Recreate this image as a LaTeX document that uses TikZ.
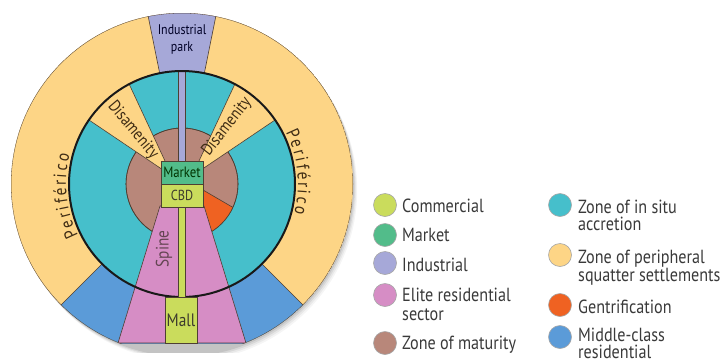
\documentclass[tikz,border=0pt]{standalone}
\usepackage{fontspec}
\setmainfont{PT Sans}[FakeStretch=0.85]
\usetikzlibrary{calc,decorations.text}

\definecolor{commercial}{HTML}{CADC5C}
\definecolor{market}{HTML}{52BC8A}
\definecolor{industrial}{HTML}{A6A8D8}
\definecolor{elite}{HTML}{D68DC5}
\definecolor{maturity}{HTML}{B8877A}
\definecolor{insitu}{HTML}{46BFCB}
\definecolor{squatter}{HTML}{FDD586}
\definecolor{gentry}{HTML}{EF6222}
\definecolor{middle}{HTML}{5B9BD8}
\definecolor{edge}{HTML}{4E3F33}
\definecolor{legendtext}{HTML}{3A3A3A}
\definecolor{labelbrown}{HTML}{3F2C14}

\tikzset{
  zoneline/.style={draw=edge,line width=0.6pt},
  box/.style={zoneline,inner sep=0pt,font=\fontsize{14.5}{16}\selectfont},
  lbl/.style={inner sep=0pt,font=\fontsize{14.5}{16}\selectfont},
  dot/.style={circle,minimum size=23pt,inner sep=0pt,draw=black!35,line width=0.6pt},
  legend/.style={anchor=base west,inner sep=0pt,text=legendtext,font=\fontsize{19}{20}\selectfont},
  ringtext/.style={decorate,decoration={text along path,text align=center,
      text={|\color{labelbrown}\fontsize{18}{20}\selectfont\spaceskip=2.3pt\relax|P e r i f é r i c o}}},
}

\begin{document}
\begin{tikzpicture}[x=1pt,y=-1pt]
\useasboundingbox (0,0) rectangle (727,362);
\fill[white] (0,0) rectangle (727,362);
\coordinate (C) at (182,184);

% soft shadow below the disc
\begin{scope}
  \clip (0,0) rectangle (400,352);
  \foreach \o/\a in {6/0.04,4.5/0.05,3/0.07,1.5/0.09}
    \fill[black,opacity=\a] ($(C)+(0.7*\o,\o)$) circle[radius=171];
\end{scope}

% outer ring: peripheral squatter settlements, industrial park, middle class
\begin{scope}
  \clip (C) circle[radius=171];
  \clip (0,0) rectangle (400,343);
  \fill[squatter] (0,0) rectangle (400,362);
  \fill[industrial] (C) -- +(-78.6:260) -- +(-101.4:260) -- cycle;
  \fill[middle] (C) -- +(-225:260) -- +(-270:260) -- cycle;
  \fill[middle] (C) -- +(-270:260) -- +(-315:260) -- cycle;
  \foreach \ang in {-78.6,-101.4,-225,-315}
    \draw[zoneline] (C) -- +(\ang:260);
  \draw[zoneline] (C) circle[radius=171];
\end{scope}

% inner disc: in situ accretion, maturity, gentrification, disamenity
\begin{scope}
  \clip (C) circle[radius=113];
  \fill[insitu] (C) circle[radius=113];
  \filldraw[fill=maturity,zoneline] (C) circle[radius=56];
  \begin{scope}
    \clip (C) circle[radius=56];
    \fill[gentry] (203,190) -- (261.4,224) -- (240,290) -- (190,290) -- (190,190) -- cycle;
    \draw[zoneline] (203,190) -- (261.4,224);
  \end{scope}
  \draw[zoneline] (C) circle[radius=56];
  \filldraw[fill=squatter,zoneline] (172,176) -- +(-115:200) -- +(-146:200) -- cycle;
  \filldraw[fill=squatter,zoneline] (192,176) -- +(-65:200) -- +(-34:200) -- cycle;
\end{scope}

% elite residential sector along the spine
\begin{scope}
  \clip (C) circle[radius=171];
  \filldraw[fill=elite,zoneline] (160,206) -- (204,206) -- (246,343) -- (118,343) -- cycle;
\end{scope}

% industrial corridor
\filldraw[fill=industrial,zoneline] (178.5,71) rectangle (185,162);

% ring road
\draw[line width=2pt,black!90] (C) circle[radius=113];

% spine and mall
\filldraw[fill=commercial,zoneline] (178.5,206) rectangle (185,298);
\node[box,fill=commercial,minimum width=32pt,minimum height=46pt,text=black!75!olive,font=\fontsize{18}{20}\selectfont] (mall) at (181,320) {Mall};

% centre
\node[box,fill=market,minimum width=42pt,minimum height=23pt,text=black!80!green,font=\fontsize{15}{16}\selectfont] (market) at (182,172.5) {Market};
\node[box,fill=commercial,minimum width=42pt,minimum height=23pt,text=black!75!olive] (cbd) at (182,195.5) {CBD};

% zone labels
\node[lbl,align=center,text=black!85!blue,font=\fontsize{14}{17}\selectfont] (park) at (182,39) {Industrial\\park};
\node[lbl,rotate=90,text=black!70!magenta,font=\fontsize{18}{20}\selectfont] (spine) at (164,249) {Spine};
\node[lbl,rotate=-50,text=labelbrown,font=\fontsize{17}{18}\selectfont] (disL) at (133,130) {Disamenity};
\node[lbl,rotate=52,text=labelbrown,font=\fontsize{17}{18}\selectfont] (disR) at (227,127) {Disamenity};

% ring road names, set along the outside of the ring
\path[ringtext] ($(C)+(-226:116)$) arc[start angle=-226,end angle=-146,radius=116];
\path[ringtext] ($(C)+(-46:116)$) arc[start angle=-46,end angle=34,radius=116];

% legend, left column
\node[dot,fill=commercial] (k1) at (385,205) {};
\node[legend] (t1) at (402,212.5) {Commercial};
\node[dot,fill=market] (k2) at (385,235) {};
\node[legend] (t2) at (402,241.7) {Market};
\node[dot,fill=industrial] (k3) at (385,263) {};
\node[legend] (t3) at (402,271.7) {Industrial};
\node[dot,fill=elite] (k4) at (385,295) {};
\node[legend] (t4) at (402,301) {Elite residential};
\node[legend] (t4b) at (402,320) {sector};
\node[dot,fill=maturity] (k5) at (385,343) {};
\node[legend] (t5) at (402,349) {Zone of maturity};

% legend, right column
\node[dot,fill=insitu] (k6) at (560,205) {};
\node[legend] (t6) at (578,213) {Zone of in situ};
\node[legend] (t6b) at (578,230.7) {accretion};
\node[dot,fill=squatter] (k7) at (560,255) {};
\node[legend] (t7) at (578,263) {Zone of peripheral};
\node[legend] (t7b) at (578,281.7) {squatter settlements};
\node[dot,fill=gentry] (k8) at (560,305) {};
\node[legend] (t8) at (578,313) {Gentrification};
\node[dot,fill=middle] (k9) at (560,337) {};
\node[legend] (t9) at (578,341.7) {Middle-class};
\node[legend] (t9b) at (578,358) {residential};
\end{tikzpicture}
\end{document}
